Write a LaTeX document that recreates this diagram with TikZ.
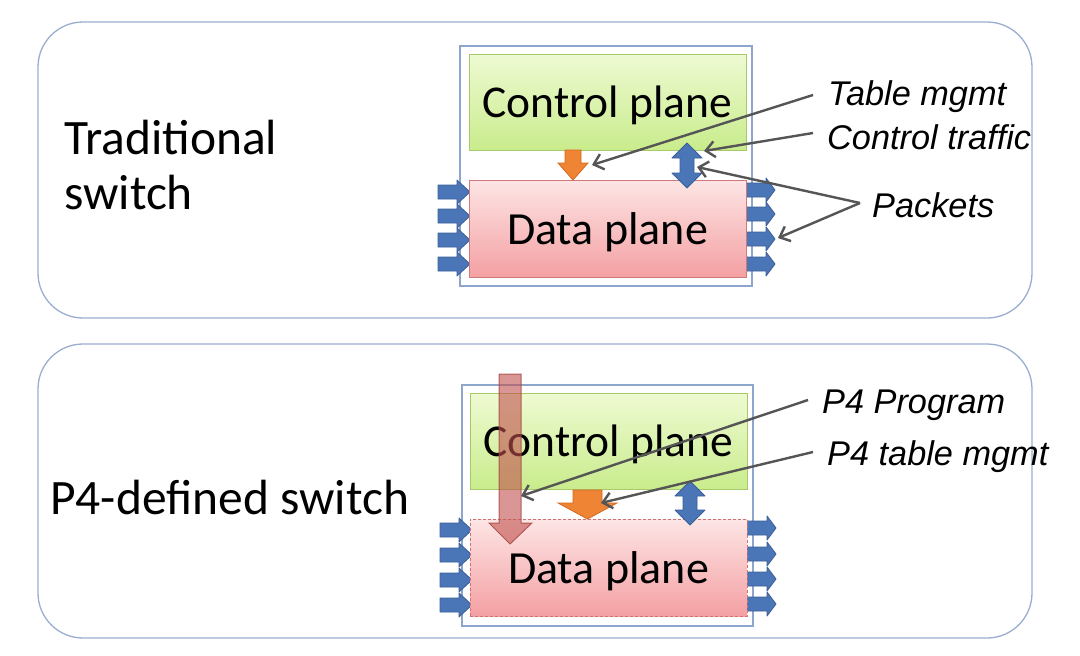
\documentclass[tikz,border=0pt]{standalone}
\usepackage{fontspec}
\setmainfont{Carlito}
\newfontfamily\lblfont{Liberation Sans}
\usetikzlibrary{arrows.meta}
\definecolor{panelc}{HTML}{9AAFCF}
\definecolor{swc}{HTML}{8EA6CB}
\definecolor{cpA}{HTML}{EEFAD2}
\definecolor{cpB}{HTML}{C9EC8C}
\definecolor{cpdraw}{HTML}{A6C96A}
\definecolor{dpA}{HTML}{FDE5E5}
\definecolor{dpB}{HTML}{F4A0A3}
\definecolor{dpdraw}{HTML}{D0787A}
\definecolor{bblue}{HTML}{4A76B8}
\definecolor{bbluedk}{HTML}{3A5E96}
\definecolor{orng}{HTML}{EE8434}
\definecolor{orngdk}{HTML}{D2691E}
\definecolor{redarr}{HTML}{C0504D}
\definecolor{callc}{HTML}{555555}
% #1 x start, #2 y centre, #3 body length, #4 head length
\newcommand{\inarrow}[4]{\filldraw[pkt] (#1,#2-7) -- (#1+#3,#2-7) -- (#1+#3,#2-12) -- (#1+#3+#4,#2) -- (#1+#3,#2+12) -- (#1+#3,#2+7) -- (#1,#2+7) -- cycle;}
\newcommand{\dblarrow}[3]{\filldraw[pkt] (#1,#2) -- (#1+15,#2+15) -- (#1+7,#2+15) -- (#1+7,#3-15) -- (#1+15,#3-15) -- (#1,#3) -- (#1-15,#3-15) -- (#1-7,#3-15) -- (#1-7,#2+15) -- (#1-15,#2+15) -- cycle;}
\newcommand{\lowertext}[2]{\raisebox{-#1}[\height][\depth]{#2}}
\begin{document}
\begin{tikzpicture}[x=1pt,y=-1pt,
  panel/.style={draw=panelc,line width=1.3pt,rounded corners=45pt,fill=white},
  swbox/.style={draw=swc,line width=1.5pt,fill=white},
  cpbox/.style={draw=cpdraw,line width=1pt,top color=cpA,bottom color=cpB,minimum width=277pt,minimum height=96pt,inner sep=0pt,font=\fontsize{45.5}{50}\selectfont},
  dpbox/.style={draw=dpdraw,line width=1pt,top color=dpA,bottom color=dpB,minimum width=277pt,minimum height=97pt,inner sep=0pt,font=\fontsize{46}{50}\selectfont},
  pkt/.style={fill=bblue,draw=bbluedk,line width=0.8pt,line join=round},
  orngarr/.style={fill=orng,draw=orngdk,line width=0.8pt},
  callout/.style={draw=callc,line width=2.4pt,-{Straight Barb[length=9pt,width=16pt,line width=2.4pt]}},
  lbl/.style={inner sep=0pt,anchor=west,font=\lblfont\itshape\fontsize{34.3}{40}\selectfont},
  title/.style={inner sep=0pt,anchor=west,align=left,font=\fontsize{49.5}{55}\selectfont}]
\useasboundingbox[fill=white] (0,0) rectangle (1080,656);
% ---------------- top panel
\draw[panel] (38,22) rectangle (1032,318);
\node[title] (trad) at (64,165) {Traditional\\switch};
\draw[swbox] (460,46) rectangle (752,286);
\foreach \yy in {192,216,240,264} {\inarrow{438}{\yy}{19}{13}}
\foreach \yy in {190,214,239,264} {\inarrow{746}{\yy}{20}{9}}
\node[cpbox] (cp1) at (607.5,102) {\lowertext{3pt}{Control plane}};
\node[dpbox] (dp1) at (607.5,228.5) {\lowertext{4pt}{Data plane}};
\filldraw[orngarr] (565,150) -- (581,150) -- (581,163) -- (588,163) -- (573,180) -- (558,163) -- (565,163) -- cycle;
\dblarrow{687}{143}{188}
\node[lbl] (tm) at (828,97) {Table mgmt};
\node[lbl] (ct) at (827,137) {Control traffic};
\node[lbl] (pk) at (872,205) {Packets};
\coordinate (tmT) at (592,165);
\coordinate (ctT) at (704,151);
\coordinate (pkT1) at (697,167);
\coordinate (pkT2) at (778,238);
\draw[callout] ([shift={(-15,-2)}]tm.west) -- (tmT);
\draw[callout] ([shift={(-14,-4)}]ct.west) -- (ctT);
\draw[callout] ([shift={(-12,-2)}]pk.west) -- (pkT1);
\draw[callout] ([shift={(-12,-2)}]pk.west) -- (pkT2);
% ---------------- bottom panel
\draw[panel] (38,344) rectangle (1032,638);
\node[title] (p4s) at (50,497) {P4-defined switch};
\draw[swbox] (462,385) rectangle (753,626);
\foreach \yy in {530,555,580,605} {\inarrow{440}{\yy}{19}{13}}
\foreach \yy in {528,554,579,604} {\inarrow{747}{\yy}{20}{9}}
\node[cpbox] (cp2) at (608.5,441.5) {\lowertext{3pt}{Control plane}};
\node[dpbox,dashed,draw=redarr!80,line width=0.8pt,dash pattern=on 3pt off 2pt] (dp2) at (608.5,567.5) {\lowertext{4pt}{Data plane}};
\filldraw[orngarr] (573,490) -- (602,490) -- (602,503) -- (617,503) -- (587.5,519) -- (558,503) -- (573,503) -- cycle;
\dblarrow{690}{481}{525}
\filldraw[fill=redarr,fill opacity=0.6,draw=redarr!85!black,draw opacity=0.8,line width=1pt] (499,374) -- (521,374) -- (521,523) -- (532,523) -- (510,544) -- (489,523) -- (499,523) -- cycle;
\node[lbl] (pp) at (822,405) {P4 Program};
\node[lbl] (ptm) at (827,457) {P4 table mgmt};
\coordinate (ppT) at (521,496);
\coordinate (ptmT) at (601,503);
\draw[callout] ([shift={(-14,-5)}]pp.west) -- (ppT);
\draw[callout] ([shift={(-14,-5)}]ptm.west) -- (ptmT);
\end{tikzpicture}
\end{document}
